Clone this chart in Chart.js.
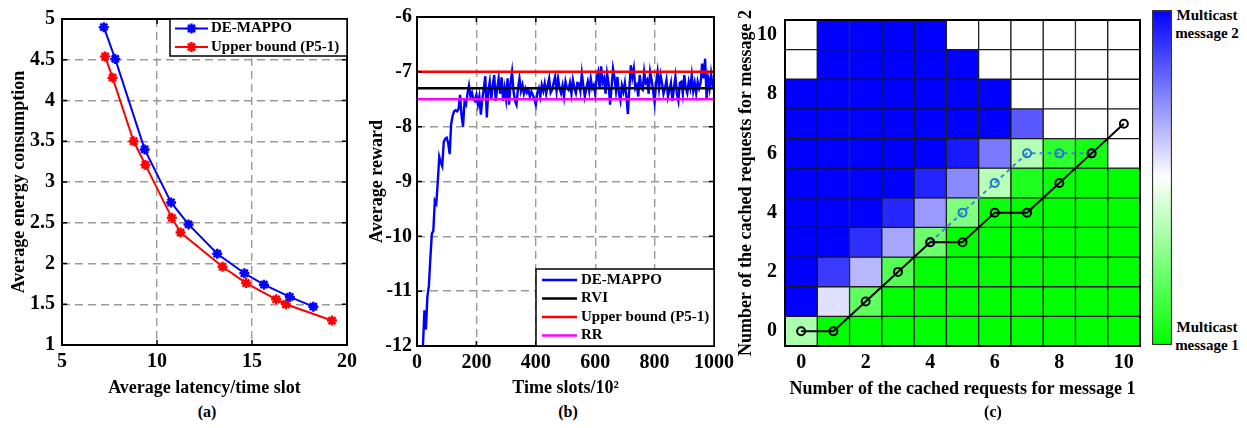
<!DOCTYPE html>
<html>
<head>
<meta charset="utf-8">
<script src="https://cdn.jsdelivr.net/npm/chart.js@4.4.0/dist/chart.umd.min.js"></script>
<style>
  body { margin: 0; background: #fff; width: 1247px; height: 428px; position: relative; overflow: hidden;
         font-family: "Liberation Serif", "Times New Roman", serif; font-weight: bold; color: #000; }
  canvas { position: absolute; }
  .cap { position: absolute; font-size: 16px; line-height: 20px; transform: translateX(-50%); white-space: nowrap; }
  .cb { position: absolute; font-size: 15px; line-height: 18px; text-align: center; transform: translateX(-50%); white-space: nowrap; }
</style>
</head>
<body>
<canvas id="chartA" width="362" height="400" style="left:0;top:0"></canvas>
<canvas id="chartB" width="380" height="400" style="left:365px;top:0"></canvas>
<canvas id="chartC" width="415" height="400" style="left:735px;top:0"></canvas>
<canvas id="chartBar" width="20" height="335" style="left:1152px;top:10px"></canvas>
<div class="cap" style="left:207px;top:402px">(a)</div>
<div class="cap" style="left:568px;top:402px">(b)</div>
<div class="cap" style="left:993px;top:402px">(c)</div>
<div class="cb" style="left:1207px;top:6px">Multicast<br>message 2</div>
<div class="cb" style="left:1207px;top:318px">Multicast<br>message 1</div>
<script>
// (a) energy vs latency
const latencyDE = [7.2, 7.8, 9.35, 10.74, 11.66, 13.17, 14.6, 15.63, 16.99, 18.23];
const energyDE = [4.9, 4.51, 3.4, 2.75, 2.48, 2.12, 1.88, 1.74, 1.59, 1.47];
const latencyUB = [7.27, 7.66, 8.77, 9.39, 10.78, 11.24, 13.45, 14.69, 16.27, 16.78, 19.21];
const energyUB = [4.54, 4.28, 3.5, 3.21, 2.56, 2.38, 1.96, 1.76, 1.56, 1.5, 1.3];

// (b) average reward, one value every 5 time slots from slot 20
const rewardDE = [
  -12.0, -11.35, -11.7, -11.1, -10.9, -10.4, -9.95, -9.9, -9.35, -9.4,
  -9.0, -8.55, -8.65, -8.72, -8.28, -8.22, -8.2, -8.3, -8.5, -7.95,
  -7.8, -7.72, -7.7, -7.72, -7.68, -7.42, -7.8, -8.0, -7.55, -7.6,
  -7.4, -7.25, -7.45, -7.38, -7.5, -7.53, -7.42, -7.6, -7.45, -7.78,
  -7.5, -7.3, -7.08, -7.83, -7.35, -7.18, -7.5, -7.25, -7.06, -7.53,
  -7.3, -7.12, -7.4, -7.1, -7.53, -7.3, -7.5, -7.12, -7.6, -7.2,
  -7.0, -7.35, -7.53, -7.6, -7.3, -7.12, -7.35, -7.24, -7.4, -7.3,
  -7.38, -7.33, -7.45, -7.36, -7.42, -7.5, -7.6, -7.38, -7.3, -7.45,
  -7.24, -7.35, -7.21, -7.4, -7.25, -7.12, -7.38, -7.33, -7.2, -7.09,
  -7.35, -7.12, -7.3, -7.39, -7.25, -7.45, -7.18, -7.3, -7.33, -7.2,
  -7.4, -7.15, -7.3, -7.39, -7.2, -7.21, -7.35, -7.03, -7.25, -7.45,
  -7.3, -7.18, -7.35, -7.12, -7.3, -7.24, -7.4, -7.1, -7.0, -7.3,
  -6.9, -7.2, -7.12, -7.4, -7.03, -7.2, -7.6, -7.3, -6.94, -7.1,
  -7.35, -7.09, -7.4, -7.53, -7.25, -7.36, -7.2, -7.45, -7.77, -7.3,
  -6.88, -7.1, -6.94, -7.3, -7.24, -7.45, -7.06, -7.3, -7.33, -7.0,
  -7.2, -7.15, -7.4, -7.0, -7.15, -7.35, -7.56, -7.2, -7.0, -7.3,
  -7.06, -7.21, -7.4, -7.3, -7.15, -7.45, -7.33, -7.2, -7.53, -7.3,
  -7.09, -7.4, -7.53, -7.2, -7.18, -7.4, -7.06, -7.3, -7.39, -7.18,
  -7.3, -7.06, -7.35, -7.2, -7.39, -7.18, -7.3, -7.2, -6.85, -7.12,
  -6.76, -7.48, -7.12, -7.3, -7.03, -7.25, -7.18
];
const slots = rewardDE.map((_, i) => 20 + 5 * i);
const rewardRVI = -7.3;
const rewardUB = -7.0;
const rewardRR = -7.5;

// (c) policy map, rows listed from y = 10 down to y = 0; +1 = message 2, -1 = message 1
const requestLabels = ['0', '1', '2', '3', '4', '5', '6', '7', '8', '9', '10'];
const yTickVals = [0, 2, 4, 6, 8, 10];
const policyRows = [
  [0, 1, 1, 1, 1, 0, 0, 0, 0, 0, 0],
  [0, 1, 1, 1, 1, 1, 0, 0, 0, 0, 0],
  [1, 1, 1, 1, 1, 1, 1, 0, 0, 0, 0],
  [1, 1, 1, 1, 1, 1, 1, 0.65, 0, 0, 0],
  [1, 1, 1, 1, 1, 0.9, 0.52, -0.3, -0.82, -0.92, 0],
  [1, 1, 1, 1, 0.86, 0.46, -0.28, -0.88, -0.96, -1, -1],
  [1, 1, 1, 0.85, 0.4, -0.5, -0.95, -1, -1, -1, -1],
  [1, 1, 0.82, 0.35, -0.57, -1, -1, -1, -1, -1, -1],
  [1, 0.77, 0.28, -0.68, -1, -1, -1, -1, -1, -1, -1],
  [1, 0.12, -0.63, -1, -1, -1, -1, -1, -1, -1, -1],
  [-0.32, -1, -1, -1, -1, -1, -1, -1, -1, -1, -1]
];
const rviPolicy = [0, 0, 1, 2, 3, 3, 4, 4, 5, 6, 7];
const dePolicy = [null, null, null, null, 3, 4, 5, 6, 6, 6, null];

const serif = 'Liberation Serif';
const tickFont = { family: serif, weight: 'bold', size: 20 };
const titleFont = { family: serif, weight: 'bold', size: 18 };
const legendFont = 'bold 15px "Liberation Serif"';
const plain = (v) => String(v);

function cellColor(v) {
  if (v >= 0) {
    const c = Math.round(255 * (1 - v));
    return `rgb(${c},${c},255)`;
  }
  const c = Math.round(255 * (1 + v));
  return `rgb(${c},255,${c})`;
}

// axes box with inward ticks, MATLAB style
const framePlugin = {
  id: 'frame',
  afterDatasetsDraw(chart, args, opts) {
    const { ctx, chartArea: { left, top, right, bottom }, scales: { x, y } } = chart;
    ctx.save();
    ctx.strokeStyle = '#000';
    ctx.lineWidth = 1.5;
    if (opts.ticks) {
      ctx.beginPath();
      x.ticks.forEach((t) => {
        const px = x.getPixelForValue(t.value);
        ctx.moveTo(px, bottom); ctx.lineTo(px, bottom - 5);
        ctx.moveTo(px, top); ctx.lineTo(px, top + 5);
      });
      y.ticks.forEach((t) => {
        const py = y.getPixelForValue(t.value);
        ctx.moveTo(left, py); ctx.lineTo(left + 5, py);
        ctx.moveTo(right, py); ctx.lineTo(right - 5, py);
      });
      ctx.stroke();
    }
    ctx.lineWidth = opts.width || 2;
    ctx.strokeRect(left, top, right - left, bottom - top);
    ctx.restore();
  }
};

// legend box drawn inside the axes
const boxLegend = {
  id: 'boxLegend',
  afterDatasetsDraw(chart, args, opts) {
    if (!opts.width) return;
    const { ctx, chartArea } = chart;
    const x = chartArea.right - opts.width;
    const y = opts.corner === 'bottom' ? chartArea.bottom - opts.height : chartArea.top;
    ctx.save();
    ctx.fillStyle = '#fff';
    ctx.fillRect(x, y, opts.width, opts.height);
    ctx.strokeStyle = '#000';
    ctx.lineWidth = 1.5;
    ctx.strokeRect(x, y, opts.width, opts.height);
    ctx.font = legendFont;
    ctx.textBaseline = 'middle';
    chart.data.datasets.forEach((ds, i) => {
      const cy = y + opts.first + i * opts.step;
      ctx.strokeStyle = ds.borderColor;
      ctx.lineWidth = ds.borderWidth;
      ctx.beginPath();
      ctx.moveTo(x + opts.lineStart, cy);
      ctx.lineTo(x + opts.lineEnd, cy);
      ctx.stroke();
      if (ds.pointRadius) {
        ctx.lineWidth = ds.pointBorderWidth;
        ctx.fillStyle = ds.borderColor;
        Chart.helpers.drawPoint(ctx, { pointStyle: ds.pointStyle, radius: ds.pointRadius, borderWidth: ds.pointBorderWidth, rotation: 0 },
          x + (opts.lineStart + opts.lineEnd) / 2, cy);
      }
      ctx.fillStyle = '#000';
      ctx.fillText(ds.label, x + opts.textStart, cy);
    });
    ctx.restore();
  }
};

const dashedGrid = { color: '#9a9a9a', lineWidth: 1.4, drawTicks: false };
const dashedBorder = { display: false, dash: [8, 5] };

new Chart(document.getElementById('chartA'), {
  type: 'scatter',
  data: {
    datasets: [
      {
        label: 'DE-MAPPO',
        data: latencyDE.map((x, i) => ({ x, y: energyDE[i] })),
        showLine: true, borderColor: '#0000ff', backgroundColor: '#0000ff', borderWidth: 2,
        pointStyle: 'star', pointRadius: 5, pointBorderWidth: 2.5, pointBorderColor: '#0000ff'
      },
      {
        label: 'Upper bound (P5-1)',
        data: latencyUB.map((x, i) => ({ x, y: energyUB[i] })),
        showLine: true, borderColor: '#ff0000', backgroundColor: '#ff0000', borderWidth: 2,
        pointStyle: 'star', pointRadius: 5, pointBorderWidth: 2.5, pointBorderColor: '#ff0000'
      }
    ]
  },
  options: {
    responsive: false,
    animation: false,
    layout: { padding: { top: 12, right: 10, left: 0, bottom: 0 } },
    plugins: {
      legend: { display: false },
      tooltip: { enabled: false },
      frame: { ticks: true },
      boxLegend: { width: 177, height: 37, first: 9.5, step: 18.5, lineStart: 5, lineEnd: 38, textStart: 41 }
    },
    scales: {
      x: {
        type: 'linear', min: 5, max: 20,
        ticks: { stepSize: 5, font: tickFont, color: '#000', padding: 5, maxRotation: 0, callback: plain },
        grid: dashedGrid, border: dashedBorder,
        title: { display: true, text: 'Average latency/time slot', font: titleFont, color: '#000', padding: { bottom: 1 } },
        afterFit: (s) => { s.height = 55; }
      },
      y: {
        min: 1, max: 5,
        ticks: { stepSize: 0.5, font: tickFont, color: '#000', padding: 7, callback: plain },
        grid: dashedGrid, border: dashedBorder,
        title: { display: true, text: 'Average energy consumption', font: titleFont, color: '#000', padding: { top: 9 } },
        afterFit: (s) => { s.width = 62; }
      }
    }
  },
  plugins: [framePlugin, boxLegend]
});

const flat = (v) => [{ x: 0, y: v }, { x: 1000, y: v }];

new Chart(document.getElementById('chartB'), {
  type: 'scatter',
  data: {
    datasets: [
      { label: 'DE-MAPPO', data: slots.map((x, i) => ({ x, y: rewardDE[i] })), showLine: true,
        borderColor: '#0000ff', borderWidth: 2.4, pointRadius: 0, order: 4 },
      { label: 'RVI', data: flat(rewardRVI), showLine: true, borderColor: '#000000', borderWidth: 2.5, pointRadius: 0, order: 2 },
      { label: 'Upper bound (P5-1)', data: flat(rewardUB), showLine: true, borderColor: '#ff0000', borderWidth: 2.5, pointRadius: 0, order: 1 },
      { label: 'RR', data: flat(rewardRR), showLine: true, borderColor: '#ff00ff', borderWidth: 2.5, pointRadius: 0, order: 3 }
    ]
  },
  options: {
    responsive: false,
    animation: false,
    layout: { padding: { top: 11, right: 31, left: 0, bottom: 0 } },
    plugins: {
      legend: { display: false },
      tooltip: { enabled: false },
      frame: { ticks: true },
      boxLegend: { corner: 'bottom', width: 178, height: 77, first: 11, step: 18.5, lineStart: 6, lineEnd: 41, textStart: 45 }
    },
    scales: {
      x: {
        type: 'linear', min: 0, max: 1000,
        ticks: { stepSize: 200, font: tickFont, color: '#000', padding: 5, maxRotation: 0, callback: plain },
        grid: dashedGrid, border: dashedBorder,
        title: { display: true, text: 'Time slots/10²', font: titleFont, color: '#000', padding: { bottom: 1 } },
        afterFit: (s) => { s.height = 54; }
      },
      y: {
        min: -12, max: -6,
        ticks: { stepSize: 1, font: tickFont, color: '#000', padding: 5, callback: plain },
        grid: dashedGrid, border: dashedBorder,
        title: { display: true, text: 'Average reward', font: titleFont, color: '#000', padding: { top: 2 } },
        afterFit: (s) => { s.width = 52; }
      }
    }
  },
  plugins: [framePlugin, boxLegend]
});

const cellSets = policyRows.map((row, k) => {
  const r = policyRows.length - 1 - k;
  return {
    type: 'bar',
    data: row.map(() => [r - 0.5, r + 0.5]),
    backgroundColor: row.map(cellColor),
    borderColor: '#1a1a1a',
    borderWidth: 1,
    borderSkipped: false,
    grouped: false,
    barPercentage: 1,
    categoryPercentage: 1,
    order: 5
  };
});

new Chart(document.getElementById('chartC'), {
  type: 'bar',
  data: {
    labels: requestLabels,
    datasets: [
      { type: 'line', label: 'RVI', data: rviPolicy, borderColor: '#000', borderWidth: 2,
        pointRadius: 4, pointBorderWidth: 2, pointBorderColor: '#000', pointBackgroundColor: 'rgba(0,0,0,0)', order: 0 },
      { type: 'line', label: 'DE-MAPPO', data: dePolicy, borderColor: '#4a7fd6', borderWidth: 2, borderDash: [4, 4],
        pointRadius: 4, pointBorderWidth: 2, pointBorderColor: '#1f78c8', pointBackgroundColor: 'rgba(0,0,0,0)', order: 1 },
      ...cellSets
    ]
  },
  options: {
    responsive: false,
    animation: false,
    layout: { padding: { top: 11, right: 10, left: 0, bottom: 0 } },
    plugins: { legend: { display: false }, tooltip: { enabled: false }, frame: { ticks: false, width: 2 } },
    scales: {
      x: {
        offset: true,
        grid: { display: false, drawTicks: false }, border: { display: false },
        ticks: { autoSkip: false, maxRotation: 0, font: tickFont, color: '#000', padding: 5,
          callback: (v, i) => (i % 2 === 0 ? requestLabels[i] : '') },
        title: { display: true, text: 'Number of the cached requests for message 1', font: titleFont, color: '#000', padding: { bottom: 0 } },
        afterFit: (s) => { s.height = 54; }
      },
      y: {
        type: 'linear', min: -0.5, max: 10.5,
        afterBuildTicks: (s) => { s.ticks = yTickVals.map((v) => ({ value: v })); },
        grid: { display: false, drawTicks: false }, border: { display: false },
        ticks: { font: tickFont, color: '#000', padding: 8 },
        title: { display: true, text: 'Number of the cached requests for message 2', font: titleFont, color: '#000', padding: { top: 1 } },
        afterFit: (s) => { s.width = 50; }
      }
    }
  },
  plugins: [framePlugin]
});

new Chart(document.getElementById('chartBar'), {
  type: 'bar',
  data: {
    labels: [''],
    datasets: [{
      data: [[-1, 1]],
      backgroundColor: (c) => {
        const { ctx, chartArea } = c.chart;
        if (!chartArea) return '#fff';
        const g = ctx.createLinearGradient(0, chartArea.bottom, 0, chartArea.top);
        g.addColorStop(0, cellColor(-1));
        g.addColorStop(0.5, cellColor(0));
        g.addColorStop(1, cellColor(1));
        return g;
      },
      borderColor: '#333',
      borderWidth: 1.5,
      borderSkipped: false,
      barPercentage: 1,
      categoryPercentage: 1
    }]
  },
  options: {
    responsive: false,
    animation: false,
    layout: { padding: 0 },
    plugins: { legend: { display: false }, tooltip: { enabled: false } },
    scales: { x: { display: false }, y: { display: false, min: -1, max: 1 } }
  }
});
</script>
</body>
</html>
